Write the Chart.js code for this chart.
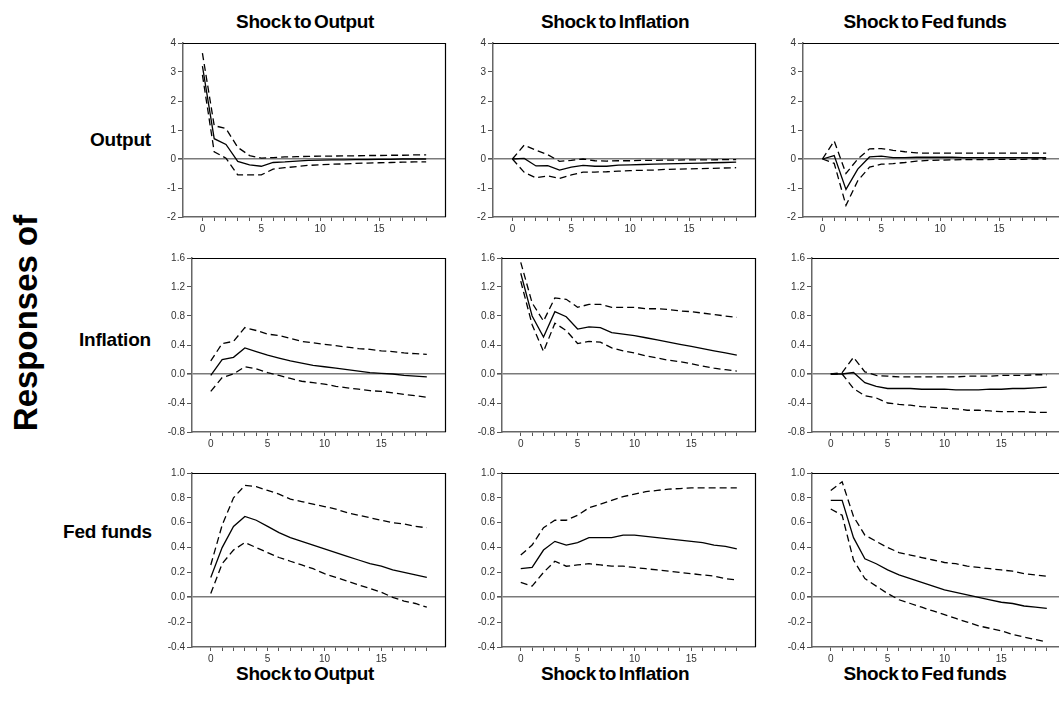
<!DOCTYPE html>
<html>
<head>
<meta charset="utf-8">
<script src="https://cdn.jsdelivr.net/npm/chart.js@4.4.0/dist/chart.umd.min.js"></script>
<style>
  body { margin:0; background:#fff; width:1059px; height:706px; overflow:hidden; position:relative;
         font-family:"Liberation Sans", Arial, sans-serif; }
  .t    { position:absolute; font-weight:bold; color:#000; white-space:nowrap; line-height:1; }
  .col  { font-size:19px; transform:translate(-50%,-50%); letter-spacing:-0.4px; word-spacing:-2px; }
  .row  { font-size:19px; transform:translate(-100%,-50%); letter-spacing:-0.2px; }
  .resp { font-size:33px; transform:translate(-50%,-50%) rotate(-90deg); }
  canvas { position:absolute; }
</style>
</head>
<body>

<div class="t col" style="left:305px;top:21px">Shock to Output</div>
<div class="t col" style="left:615px;top:21px">Shock to Inflation</div>
<div class="t col" style="left:925px;top:21px">Shock to Fed funds</div>
<div class="t col" style="left:305px;top:673px">Shock to Output</div>
<div class="t col" style="left:615px;top:673px">Shock to Inflation</div>
<div class="t col" style="left:925px;top:673px">Shock to Fed funds</div>

<div class="t row" style="left:151px;top:139px">Output</div>
<div class="t row" style="left:151px;top:339px">Inflation</div>
<div class="t row" style="left:152px;top:531px">Fed funds</div>
<div class="t resp" style="left:25px;top:323px">Responses of</div>

<script>
// ── Data (periods 0..19) ─────────────────────────────────────────────────────
const periods = [0,1,2,3,4,5,6,7,8,9,10,11,12,13,14,15,16,17,18,19];

// Output responses
const outToOut    = [3.20,0.70,0.50,-0.08,-0.20,-0.25,-0.12,-0.10,-0.07,-0.05,-0.04,-0.03,-0.03,-0.02,-0.02,-0.01,-0.01,0.00,0.00,0.00];
const outToOutHi  = [3.65,1.15,1.05,0.40,0.12,0.03,0.05,0.07,0.08,0.09,0.10,0.10,0.11,0.11,0.12,0.12,0.13,0.13,0.14,0.14];
const outToOutLo  = [2.90,0.25,0.03,-0.55,-0.55,-0.55,-0.35,-0.30,-0.26,-0.22,-0.20,-0.18,-0.17,-0.15,-0.14,-0.13,-0.12,-0.11,-0.10,-0.10];

const outToInf    = [0,0.02,-0.24,-0.23,-0.38,-0.28,-0.22,-0.25,-0.25,-0.21,-0.20,-0.19,-0.18,-0.17,-0.16,-0.15,-0.14,-0.13,-0.12,-0.11];
const outToInfHi  = [0,0.48,0.30,0.15,-0.08,-0.05,0.00,-0.06,-0.07,-0.06,-0.06,-0.05,-0.05,-0.04,-0.04,-0.03,-0.03,-0.03,-0.02,-0.02];
const outToInfLo  = [0,-0.46,-0.65,-0.58,-0.67,-0.55,-0.45,-0.45,-0.44,-0.42,-0.40,-0.39,-0.38,-0.36,-0.35,-0.34,-0.33,-0.32,-0.31,-0.30];

const outToFed    = [0,0.12,-1.05,-0.35,0.07,0.10,0.05,0.05,0.06,0.06,0.06,0.06,0.05,0.05,0.05,0.05,0.05,0.05,0.05,0.05];
const outToFedHi  = [0,0.62,-0.50,0.00,0.35,0.36,0.30,0.25,0.21,0.20,0.20,0.20,0.20,0.20,0.20,0.20,0.20,0.20,0.20,0.20];
const outToFedLo  = [0,-0.15,-1.60,-0.75,-0.28,-0.18,-0.16,-0.12,-0.07,-0.05,-0.04,-0.03,-0.02,-0.02,-0.02,-0.01,-0.01,-0.01,0.00,0.00];

// Inflation responses
const infToOut    = [-0.02,0.20,0.23,0.36,0.31,0.26,0.22,0.18,0.15,0.12,0.10,0.08,0.06,0.04,0.02,0.01,0.00,-0.02,-0.03,-0.04];
const infToOutHi  = [0.18,0.42,0.45,0.64,0.60,0.55,0.53,0.49,0.45,0.43,0.41,0.39,0.37,0.35,0.34,0.32,0.31,0.29,0.28,0.27];
const infToOutLo  = [-0.24,-0.05,0.00,0.10,0.07,0.02,-0.02,-0.06,-0.10,-0.12,-0.14,-0.17,-0.19,-0.21,-0.23,-0.24,-0.26,-0.28,-0.30,-0.32];

const infToInf    = [1.39,0.80,0.51,0.86,0.79,0.62,0.65,0.64,0.57,0.55,0.53,0.50,0.47,0.44,0.41,0.38,0.35,0.32,0.29,0.26];
const infToInfHi  = [1.54,0.98,0.73,1.05,1.03,0.92,0.96,0.96,0.92,0.92,0.92,0.90,0.90,0.89,0.87,0.86,0.84,0.82,0.80,0.78];
const infToInfLo  = [1.28,0.68,0.31,0.70,0.60,0.42,0.45,0.44,0.36,0.32,0.29,0.25,0.22,0.19,0.17,0.14,0.11,0.08,0.06,0.04];

const infToFed    = [0,0.00,0.02,-0.12,-0.17,-0.20,-0.20,-0.20,-0.21,-0.21,-0.21,-0.22,-0.22,-0.22,-0.21,-0.21,-0.20,-0.20,-0.19,-0.18];
const infToFedHi  = [0,0.02,0.23,0.03,-0.02,-0.03,-0.04,-0.04,-0.04,-0.04,-0.04,-0.04,-0.03,-0.03,-0.03,-0.02,-0.02,-0.02,-0.01,-0.01];
const infToFedLo  = [0,0.00,-0.20,-0.30,-0.33,-0.40,-0.42,-0.43,-0.45,-0.46,-0.47,-0.48,-0.50,-0.50,-0.51,-0.52,-0.52,-0.52,-0.53,-0.53];

// Fed funds responses
const fedToOut    = [0.16,0.40,0.57,0.65,0.62,0.57,0.52,0.48,0.45,0.42,0.39,0.36,0.33,0.30,0.27,0.25,0.22,0.20,0.18,0.16];
const fedToOutHi  = [0.26,0.58,0.80,0.90,0.89,0.86,0.83,0.79,0.77,0.75,0.73,0.71,0.68,0.66,0.64,0.62,0.60,0.59,0.57,0.56];
const fedToOutLo  = [0.03,0.27,0.38,0.44,0.40,0.36,0.32,0.29,0.26,0.23,0.19,0.16,0.13,0.10,0.07,0.04,0.00,-0.03,-0.05,-0.08];

const fedToInf    = [0.23,0.24,0.38,0.45,0.42,0.44,0.48,0.48,0.48,0.50,0.50,0.49,0.48,0.47,0.46,0.45,0.44,0.42,0.41,0.39];
const fedToInfHi  = [0.34,0.42,0.56,0.62,0.62,0.66,0.72,0.75,0.78,0.81,0.83,0.85,0.86,0.87,0.875,0.88,0.88,0.88,0.88,0.88];
const fedToInfLo  = [0.12,0.09,0.20,0.29,0.25,0.26,0.27,0.26,0.25,0.25,0.24,0.23,0.22,0.21,0.20,0.19,0.18,0.17,0.15,0.14];

const fedToFed    = [0.78,0.78,0.48,0.31,0.27,0.22,0.18,0.15,0.12,0.09,0.06,0.04,0.02,0.00,-0.02,-0.04,-0.05,-0.07,-0.08,-0.09];
const fedToFedHi  = [0.86,0.93,0.65,0.50,0.45,0.40,0.36,0.34,0.32,0.30,0.28,0.27,0.25,0.24,0.23,0.22,0.21,0.19,0.18,0.17];
const fedToFedLo  = [0.71,0.66,0.30,0.15,0.09,0.03,-0.02,-0.05,-0.08,-0.11,-0.14,-0.17,-0.20,-0.23,-0.25,-0.27,-0.30,-0.32,-0.34,-0.36];

// axis ranges per row
const rowY = [
  { min:-2,   max:4,   step:1,   dec:0 },
  { min:-0.8, max:1.6, step:0.4, dec:1 },
  { min:-0.4, max:1.0, step:0.2, dec:1 }
];
const X_MIN = -1.65, X_MAX = 20.6;

// ── Layout (plot area boxes) ────────────────────────────────────────────────
const rowTop  = [43.3, 258.3, 473.3];
const rowLeft = [183, 191.7, 191.7];
const AREA_H  = 174;
const AREA_R  = 445;
const COL_DX  = 310;
const YW = 40, XH = 30, TP = 10, RP = 10;

const frame = {
  id: 'frame',
  afterDraw(chart) {
    const a = chart.chartArea, c = chart.ctx;
    c.save();
    c.strokeStyle = '#000';
    c.lineWidth = 1.2;
    c.beginPath();
    c.moveTo(a.left, a.top + 0.5);
    c.lineTo(a.right + 0.5, a.top + 0.5);
    c.lineTo(a.right + 0.5, a.bottom);
    c.stroke();
    c.restore();
  }
};

function line(vals, dashed) {
  return {
    data: periods.map((p, i) => ({ x: p, y: vals[i] })),
    borderColor: '#000',
    borderWidth: 1.3,
    borderDash: dashed ? [7, 4] : [],
    pointRadius: 0,
    tension: 0,
    fill: false
  };
}

function makePanel(r, c, mid, hi, lo) {
  const left = rowLeft[r] + c * COL_DX;
  const w    = AREA_R - rowLeft[r];
  const cv   = document.createElement('canvas');
  cv.width  = YW + w + RP;
  cv.height = TP + AREA_H + XH;
  cv.style.left = (left - YW) + 'px';
  cv.style.top  = (rowTop[r] - TP) + 'px';
  cv.style.width  = cv.width + 'px';
  cv.style.height = cv.height + 'px';
  document.body.appendChild(cv);

  const yr = rowY[r];
  new Chart(cv, {
    type: 'line',
    data: { datasets: [line(mid, false), line(hi, true), line(lo, true)] },
    options: {
      responsive: false,
      animation: false,
      devicePixelRatio: 1,
      layout: { padding: { top: TP, right: RP, left: 0, bottom: 0 } },
      plugins: { legend: { display: false }, tooltip: { enabled: false } },
      scales: {
        x: {
          type: 'linear', min: X_MIN, max: X_MAX,
          afterBuildTicks: s => { s.ticks = periods.map(v => ({ value: v })); },
          afterFit: s => { s.height = XH; },
          ticks: {
            autoSkip: false, maxRotation: 0, padding: 2,
            color: '#333', font: { family: 'Liberation Sans', size: 10 },
            callback: v => (v % 5 === 0 ? String(v) : '')
          },
          grid: { drawOnChartArea: false, tickLength: 4, color: '#555', lineWidth: 1 },
          border: { display: true, color: '#666', width: 1.5 }
        },
        y: {
          min: yr.min, max: yr.max,
          afterFit: s => { s.width = YW; },
          ticks: {
            stepSize: yr.step, padding: 2,
            color: '#333', font: { family: 'Liberation Sans', size: 10 },
            callback: v => (Math.abs(v) < 1e-9 ? 0 : v).toFixed(yr.dec)
          },
          grid: {
            tickLength: 5, tickColor: '#555',
            color: ctx => (Math.abs(ctx.tick.value) < 1e-9 ? '#7a7a7a' : 'rgba(0,0,0,0)'),
            lineWidth: ctx => (Math.abs(ctx.tick.value) < 1e-9 ? 1.6 : 1)
          },
          border: { display: true, color: '#666', width: 1.5 }
        }
      }
    },
    plugins: [frame]
  });
}

makePanel(0, 0, outToOut, outToOutHi, outToOutLo);
makePanel(0, 1, outToInf, outToInfHi, outToInfLo);
makePanel(0, 2, outToFed, outToFedHi, outToFedLo);
makePanel(1, 0, infToOut, infToOutHi, infToOutLo);
makePanel(1, 1, infToInf, infToInfHi, infToInfLo);
makePanel(1, 2, infToFed, infToFedHi, infToFedLo);
makePanel(2, 0, fedToOut, fedToOutHi, fedToOutLo);
makePanel(2, 1, fedToInf, fedToInfHi, fedToInfLo);
makePanel(2, 2, fedToFed, fedToFedHi, fedToFedLo);
</script>
</body>
</html>
